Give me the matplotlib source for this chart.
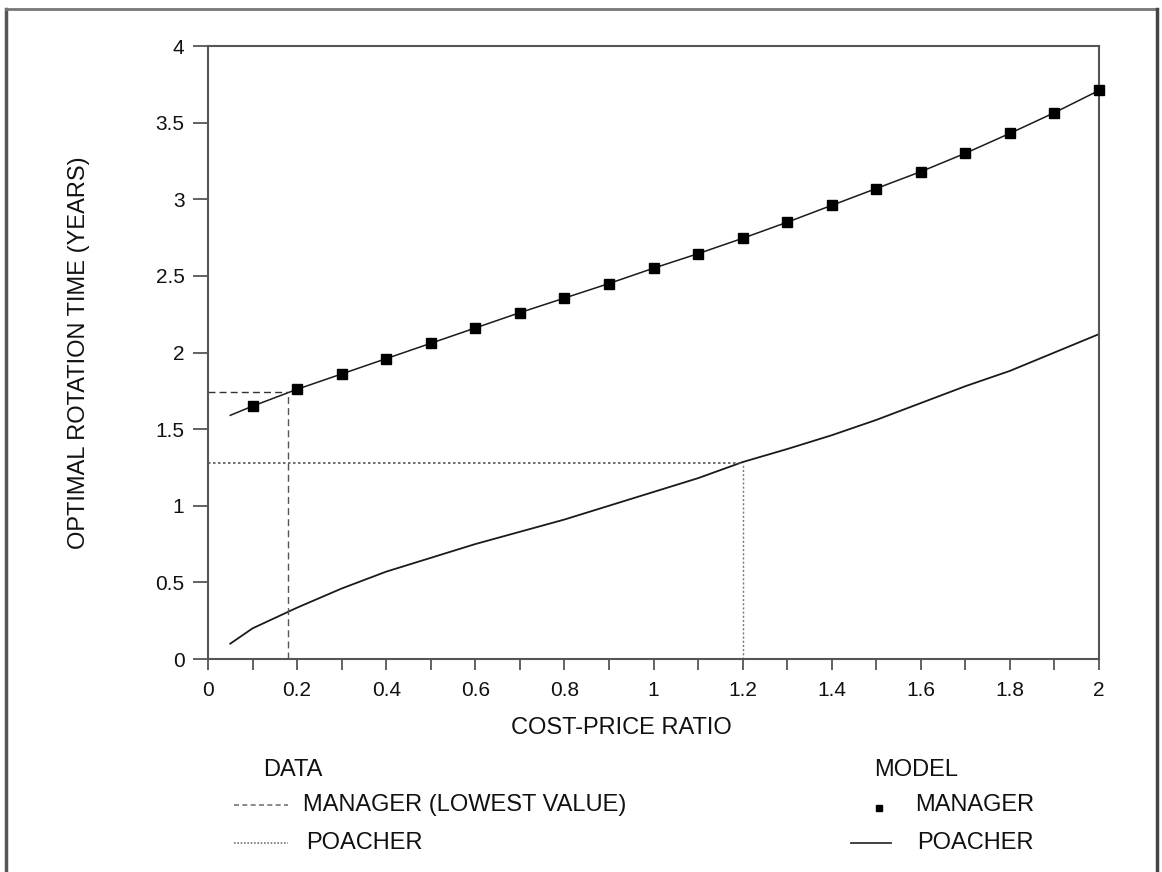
import matplotlib
matplotlib.use("Agg")
import matplotlib.pyplot as plt
from matplotlib.lines import Line2D
from matplotlib.ticker import MultipleLocator

plt.rcParams['font.family'] = ['Liberation Sans', 'DejaVu Sans']

# model, manager (markers)
manager_x = [0.1, 0.2, 0.3, 0.4, 0.5, 0.6, 0.7, 0.8, 0.9, 1.0,
             1.1, 1.2, 1.3, 1.4, 1.5, 1.6, 1.7, 1.8, 1.9, 2.0]
manager_y = [1.65, 1.76, 1.86, 1.96, 2.06, 2.16, 2.26, 2.355, 2.45, 2.55,
             2.645, 2.745, 2.85, 2.96, 3.07, 3.18, 3.30, 3.43, 3.565, 3.71]
# the line through the markers starts a bit earlier
manager_line_x = [0.05] + manager_x
manager_line_y = [1.59] + manager_y

# model, poacher (solid curve)
poacher_x = [0.05, 0.1, 0.2, 0.3, 0.4, 0.5, 0.6, 0.7, 0.8, 0.9, 1.0,
             1.1, 1.2, 1.3, 1.4, 1.5, 1.6, 1.7, 1.8, 1.9, 2.0]
poacher_y = [0.10, 0.20, 0.335, 0.46, 0.57, 0.66, 0.75, 0.83, 0.91, 1.00, 1.09,
             1.18, 1.285, 1.37, 1.46, 1.56, 1.67, 1.78, 1.88, 2.00, 2.12]

# observed data
data_manager_x, data_manager_y = 0.18, 1.74
data_poacher_x, data_poacher_y = 1.2, 1.28

xtick_vals = [0, 0.2, 0.4, 0.6, 0.8, 1, 1.2, 1.4, 1.6, 1.8, 2]
xtick_labels = ['0', '0.2', '0.4', '0.6', '0.8', '1', '1.2', '1.4', '1.6', '1.8', '2']
ytick_vals = [0, 0.5, 1, 1.5, 2, 2.5, 3, 3.5, 4]
ytick_labels = ['0', '0.5', '1', '1.5', '2', '2.5', '3', '3.5', '4']

ink = '#1a1a1a'
axcol = '#555555'
tcol = '#111111'
W, H = 1162, 872

fig = plt.figure(figsize=(11.62, 8.72), dpi=100)
ax = fig.add_axes([208 / W, 1 - 659 / H, 891 / W, 613 / H])

ax.plot(manager_line_x, manager_line_y, color=ink, lw=1.1)
ax.plot(manager_x, manager_y, ls='none', marker='s', ms=7.5, color='black',
        clip_on=False, zorder=4)
ax.plot(poacher_x, poacher_y, color=ink, lw=1.3)

# data reference lines
ax.plot([0, data_manager_x], [data_manager_y, data_manager_y], color='#333333',
        lw=1.0, dashes=(5, 3))
ax.plot([data_manager_x, data_manager_x], [0, data_manager_y], color='#555555',
        lw=1.0, dashes=(5, 3))
ax.plot([0, data_poacher_x], [data_poacher_y, data_poacher_y], color='#555555',
        lw=1.2, dashes=(1.5, 1.5))
ax.plot([data_poacher_x, data_poacher_x], [0, data_poacher_y], color='#777777',
        lw=1.0, dashes=(1.5, 1.5))

ax.set_xlim(0, 2)
ax.set_ylim(0, 4)
ax.xaxis.set_minor_locator(MultipleLocator(0.1))
ax.set_xticks(xtick_vals)
ax.set_xticklabels(xtick_labels)
ax.set_yticks(ytick_vals)
ax.set_yticklabels(ytick_labels)

for sp in ax.spines.values():
    sp.set_color(axcol)
    sp.set_linewidth(1.5)
ax.tick_params(axis='both', which='both', direction='out', color=axcol, width=1.3,
               labelsize=15, labelcolor=tcol)
ax.tick_params(axis='x', which='both', length=8, pad=8)
ax.tick_params(axis='y', which='major', length=11, pad=6)

ax.set_xlabel('COST-PRICE RATIO', fontsize=17, color=tcol, va='center')
ax.xaxis.set_label_coords((621 - 208) / 891, (659 - 728) / 613)
ax.set_ylabel('OPTIMAL ROTATION TIME (YEARS)', fontsize=17, color=tcol, va='center')
ax.yaxis.set_label_coords((79 - 208) / 891, 0.5)

# legend below the chart
fs = 17
fig.text(263 / W, 1 - 770 / H, 'DATA', fontsize=fs, color=tcol, va='center')
fig.text(303 / W, 1 - 805 / H, 'MANAGER (LOWEST VALUE)', fontsize=fs, color=tcol, va='center')
fig.text(306 / W, 1 - 843 / H, 'POACHER', fontsize=fs, color=tcol, va='center')
fig.add_artist(Line2D([234 / W, 288 / W], [1 - 805 / H] * 2, color='#777777',
                      lw=1.2, dashes=(3, 2)))
fig.add_artist(Line2D([234 / W, 288 / W], [1 - 843 / H] * 2, color='#777777',
                      lw=1.2, dashes=(1, 1)))

fig.text(874 / W, 1 - 770 / H, 'MODEL', fontsize=fs, color=tcol, va='center')
fig.text(915 / W, 1 - 805 / H, 'MANAGER', fontsize=fs, color=tcol, va='center')
fig.text(917 / W, 1 - 843 / H, 'POACHER', fontsize=fs, color=tcol, va='center')
fig.add_artist(Line2D([879 / W], [1 - 808 / H], ls='none', marker='s', ms=5, color='black'))
fig.add_artist(Line2D([851 / W, 891 / W], [1 - 843 / H] * 2, color='#333333', lw=1.3))

# outer frame
fig.add_artist(Line2D([6 / W, 6 / W], [0, 1 - 9 / H], color='#555555', lw=2.5))
fig.add_artist(Line2D([6 / W, 1157 / W], [1 - 9 / H] * 2, color='#777777', lw=2.0))
fig.add_artist(Line2D([1157 / W, 1157 / W], [0, 1 - 9 / H], color='#444444', lw=2.5))

fig.savefig('out.png', dpi=100)
